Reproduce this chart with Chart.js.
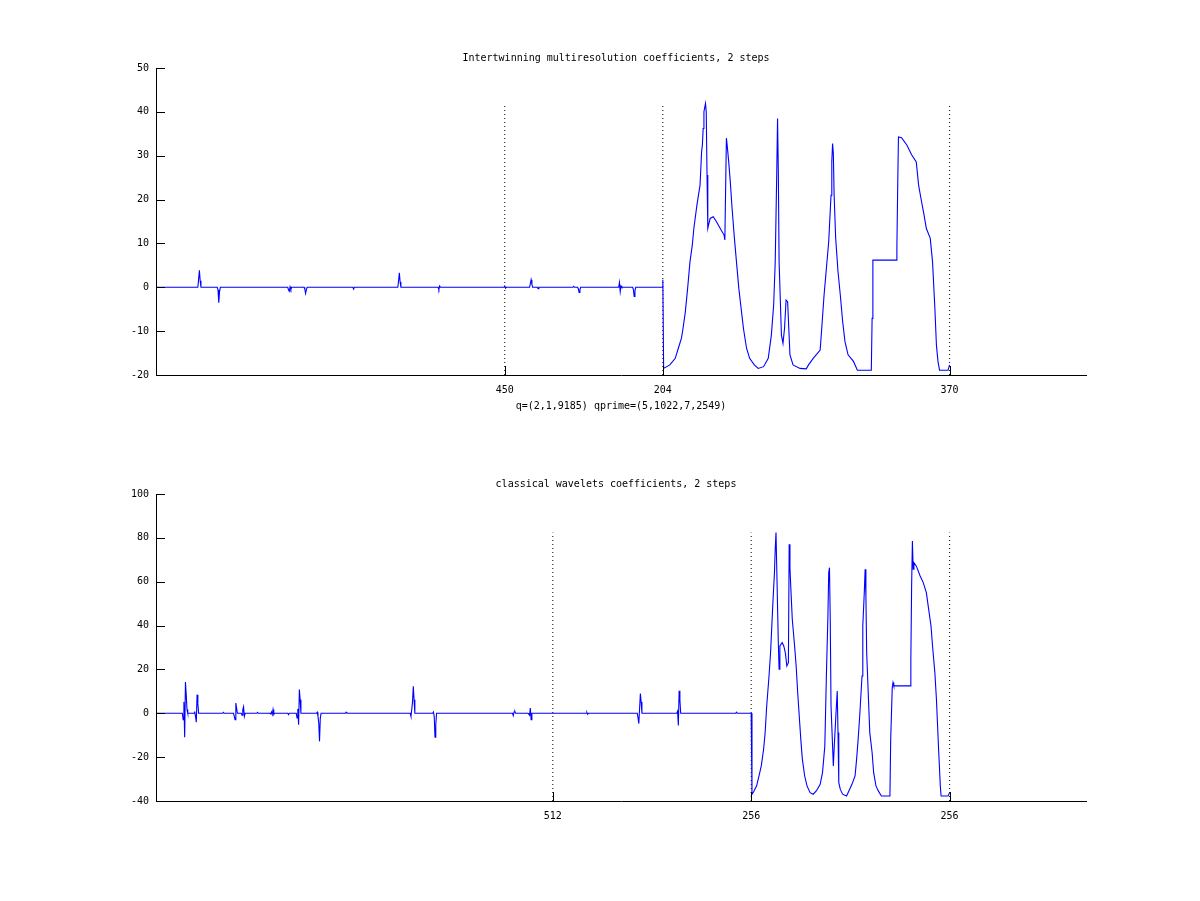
<!DOCTYPE html>
<html><head><meta charset="utf-8">
<script src="https://cdn.jsdelivr.net/npm/chart.js@4/dist/chart.umd.min.js"></script>
<style>
html,body{margin:0;padding:0;background:#fff;}
#c1{position:absolute;left:0;top:0;}
#c2{position:absolute;left:0;top:450px;}
</style></head><body>
<canvas id="c1" width="1200" height="450"></canvas>
<canvas id="c2" width="1200" height="451"></canvas>
<script>
// ---------- top panel ----------
const topTitle = "Intertwinning multiresolution coefficients, 2 steps";
const topXLabel = "q=(2,1,9185) qprime=(5,1022,7,2549)";
const topTickPos = [450, 654, 1024];
const topTickLabels = ["450", "204", "370"];
const topYRange = [-20, 50, 10];
const topX = [1,
  54,55,56,57,58, 79,80,81,82,83, 170,171,172,173,174,175, 191,192,193,194,195,
  254,255,256, 312,313,314,315,316, 364,365,366,367, 449,450,451,452,
  482,483,484,485,486, 492,493,494, 538,539,540, 544,545,546,547,548,
  597,598,599,600,601, 615,616,617,618,619, 653,654,655,
  663,670,674,678,680,683,686,689,692,694,698,702,704,705,706,707,709,710,711,712,
  715,719,723,729,733,734,736,737,739,741,743,746,749,752,755,758,762,766,772,777,
  784,790,794,797,799,801,802,803,804,807,809,811,813,815,818,822,831,839,842,848,
  857,859,862,865,868,871,872,873,874,875,877,880,883,886,889,893,900,905,923,924,
  925,955,956,957,958,962,969,975,981,984,987,991,994,999,1002,1005,1007,1009,1011,1022,1024];
const topY = [0,
  0,1.9,3.9,1.5,0, 0,-0.6,-3.5,-1.0,0, 0,-0.6,-0.9,0.1,-0.5,0, 0,-0.4,-1.4,-0.6,0,
  0,-0.4,0, 0,1.5,3.3,1.2,0, 0,-0.5,0.3,0, 0,0.3,-0.2,0,
  0,0.8,1.7,0.7,0, 0,-0.3,0, 0,0.2,0, 0,-0.4,-1.2,-0.5,0,
  0,1.1,-1.0,0.3,0, 0,-0.5,-2.1,-0.8,0, 0,1.7,-18.5,
  -17.7,-16.2,-13.9,-11.6,-9.4,-5.6,-0.2,5.8,9.6,13.4,18.8,23.3,30.9,32.4,36.2,40.0,41.9,40.0,25.6,13.4,
  15.7,16.1,15.0,13.1,11.9,10.8,34.0,32.4,28.6,24.1,18.8,11.9,5.8,-0.2,-4.8,-9.4,-13.9,-16.2,-17.7,-18.5,
  -18.1,-16.2,-10.9,-4.0,5.8,26.4,38.5,26.4,5.8,-10.9,-12.8,-9.4,-2.9,-3.3,-15.4,-17.7,-18.5,-18.6,-17.7,-16.2,
  -14.3,-9.4,-1.8,4.3,10.4,21.0,28.6,32.8,30.5,21.0,11.2,3.6,-1.8,-7.8,-12.4,-15.4,-16.9,-18.9,-18.9,-7.1,
  6.2,6.2,9.3,22.6,34.3,34.1,32.4,30.2,28.6,23.3,20.3,16.5,13.4,11.2,5.8,-4.8,-13.2,-16.9,-18.9,-18.9,-17.7];

// ---------- bottom panel ----------
const botTitle = "classical wavelets coefficients, 2 steps";
const botTickPos = [512, 768, 1024];
const botTickLabels = ["512", "256", "256"];
const botYRange = [-40, 100, 20];
const botX = [1,
  34,35,36,37,38,39,40,41, 49,50,51,52,53,54,55, 86,87,88, 100,101,102,103,104,105,
  110,111,112,113,114,115, 130,131,132, 147,148,149,150,151,152,153, 170,171,172,
  181,182,183,184,185,186,187, 207,208,209,210,211,212,213, 244,245,246,247,
  328,329,330,331,332,333,334, 357,358,359,360,361,362, 460,461,462,463,464,
  480,481,482,483,484,485, 555,556,557,558, 621,622,623,625,626,627,
  672,673,674,675,676,677, 748,749,750, 768,769,
  771,775,778,781,784,786,788,791,793,796,798,799,800,801,803,804,805,808,810,812,
  814,816,817,818,819,821,824,826,828,830,832,834,837,840,844,848,852,857,860,863,
  865,867,868,869,870,871,873,874,875,877,879,880,881,883,886,891,893,898,902,904,
  906,908,911,912,914,915,916,917,919,921,924,926,929,932,936,947,948,950,951,952,
  973,974,975,976,977,978,981,986,990,994,997,1000,1002,1005,1007,1010,1012,1013,1022,1024];
const botY = [0,
  0,-2.9,5.2,-10.9,14.3,8.5,1.7,0, 0,0.5,-1.4,-4.1,8.5,4.3,0, 0,0.4,0, 0,-1.4,-2.9,4.7,2.4,0,
  0,-0.9,1.7,3.0,-1.4,0, 0,0.4,0, 0,-0.3,0.6,-0.6,1.7,-0.6,0, 0,-0.6,0,
  0,-2.1,2.0,-5.2,10.8,6.2,0, 0,0.5,-1.4,-4.4,-12.8,-2.1,0, 0,0.5,0.5,0,
  0,-1.4,1.7,5.2,12.3,6.2,0, 0,0.6,-1.4,-10.9,-5.2,0, 0,-1.1,0.6,0.9,0,
  0,-0.4,-0.9,2.4,-2.9,0, 0,0.4,-0.5,0, 0,-2.1,-4.7,9.0,5.2,0,
  0,0.9,-5.6,10.3,6.2,0, 0,0.5,0, 0,-36.9,
  -35.9,-33.1,-28.6,-24.0,-16.4,-8.8,3.3,17.0,27.7,50.5,64.1,74.8,82.4,82.4,32.2,20.1,30.7,32.2,30.7,27.7,
  21.6,23.1,77.1,66.4,58.1,42.9,30.7,21.6,9.4,-1.2,-11.9,-20.9,-28.6,-33.1,-36.2,-36.9,-35.4,-32.4,-27.1,-14.9,
  17.0,44.4,64.1,66.4,42.9,3.3,-14.9,-24.0,-16.4,-2.7,10.2,-8.8,-31.6,-34.7,-36.9,-37.7,-36.2,-32.4,-28.6,-21.0,
  -11.9,-1.2,17.0,39.8,55.8,65.7,53.5,27.7,9.4,-8.8,-17.9,-27.1,-33.1,-35.4,-37.7,-37.7,-11.9,11.7,14.0,12.5,
  12.5,24.6,58.1,78.6,65.7,68.7,67.2,62.6,59.6,55.0,47.4,39.8,30.7,18.5,6.4,-17.9,-33.1,-37.7,-37.7,-36.2];

const FONT = {family: '"DejaVu Sans Mono", monospace', size: 10};

const axesDecor = {
  id: 'axesDecor',
  afterDraw(chart, args, opts) {
    const {ctx, chartArea: a, scales: {x, y}} = chart;
    ctx.save();
    ctx.strokeStyle = '#000';
    ctx.lineWidth = 1;
    ctx.beginPath();
    y.ticks.forEach(t => {
      const py = Math.round(y.getPixelForValue(t.value)) + 0.5;
      ctx.moveTo(a.left, py); ctx.lineTo(a.left + 9, py);
    });
    x.ticks.forEach(t => {
      const px = Math.round(x.getPixelForValue(t.value)) + 0.5;
      ctx.moveTo(px, a.bottom); ctx.lineTo(px, a.bottom - 9);
    });
    ctx.stroke();
    ctx.fillStyle = '#000';
    ctx.font = '10px "DejaVu Sans Mono", monospace';
    ctx.textAlign = 'center';
    ctx.textBaseline = 'middle';
    ctx.fillText(opts.title, (a.left + a.right) / 2 - 5, a.top - 10);
    ctx.restore();
  }
};

function zip(xs, ys) { return xs.map((v, i) => ({x: v, y: ys[i]})); }

function makePanel(canvasId, xs, ys, tickPos, tickLabels, yRange, title, xLabel, pad) {
  const ymax = Math.max(...ys);
  const datasets = [{
    data: zip(xs, ys), borderColor: '#0000ff', borderWidth: 1.1, pointRadius: 0, tension: 0
  }];
  tickPos.forEach(p => datasets.push({
    data: [{x: p, y: yRange[0]}, {x: p, y: ymax}],
    borderColor: '#000', borderWidth: 1, borderDash: [1, 3], pointRadius: 0
  }));
  return new Chart(document.getElementById(canvasId), {
    type: 'line',
    data: {datasets},
    plugins: [axesDecor],
    options: {
      responsive: false, animation: false, devicePixelRatio: 1,
      layout: {padding: pad},
      plugins: {legend: {display: false}, tooltip: {enabled: false}, title: {display: false},
                axesDecor: {title}},
      scales: {
        x: {
          type: 'linear', min: 0, max: 1200,
          afterBuildTicks: s => { s.ticks = tickPos.map(v => ({value: v})); },
          afterFit: s => { s.height = 45; },
          grid: {display: false, drawTicks: false},
          border: {display: true, color: '#000', width: 1},
          ticks: {autoSkip: false, maxRotation: 0, padding: 9, color: '#000', font: FONT,
                  callback: (v, i) => tickLabels[i]},
          title: {display: !!xLabel, text: xLabel || '', color: '#000', font: FONT,
                  padding: {top: 0, bottom: 8}}
        },
        y: {
          min: yRange[0], max: yRange[1],
          afterFit: s => { s.width = 156; },
          grid: {display: false, drawTicks: false},
          border: {display: true, color: '#000', width: 1},
          ticks: {stepSize: yRange[2], padding: 7, color: '#000', font: FONT}
        }
      }
    }
  });
}

makePanel('c1', topX, topY, topTickPos, topTickLabels, topYRange, topTitle, topXLabel,
          {left: 0, top: 68, right: 114, bottom: 30});
makePanel('c2', botX, botY, botTickPos, botTickLabels, botYRange, botTitle, null,
          {left: 0, top: 44, right: 114, bottom: 55});
</script>
</body></html>
